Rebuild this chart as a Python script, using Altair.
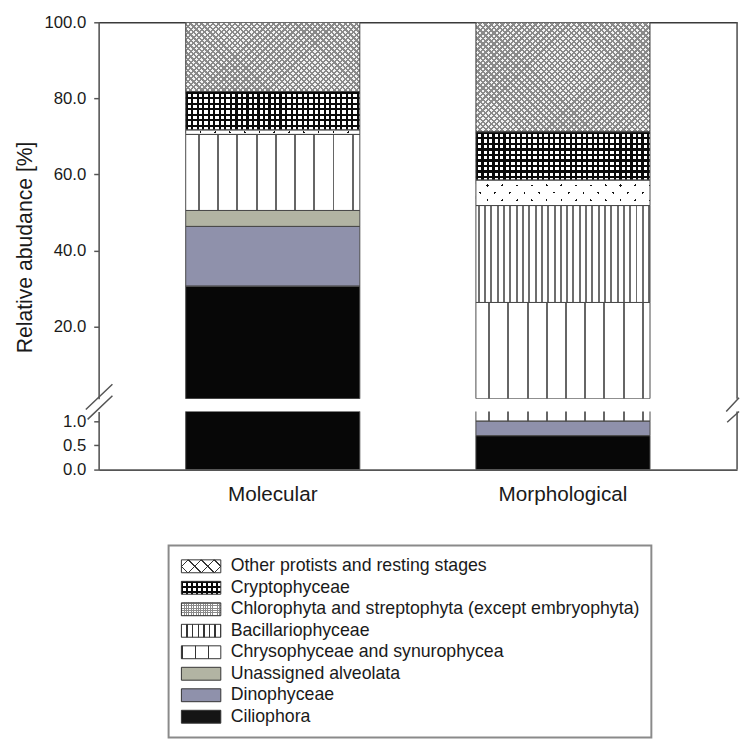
import altair as alt
import pandas as pd

# ---------------- data ----------------
methods = ["Molecular", "Morphological"]
# stacking order, bottom to top
categories = [
    "Ciliophora",
    "Dinophyceae",
    "Unassigned alveolata",
    "Chrysophyceae and synurophycea",
    "Bacillariophyceae",
    "Chlorophyta and streptophyta (except embryophyta)",
    "Cryptophyceae",
    "Other protists and resting stages",
]
molecular = [30.6, 15.7, 4.2, 20.0, 0.0, 1.2, 10.1, 18.2]
morphological = [0.7, 0.3, 0.0, 25.3, 25.5, 6.7, 12.7, 28.8]
upper_ticks = [20, 40, 60, 80, 100]
lower_ticks = [0.0, 0.5, 1.0]
legend_order = [
    "Other protists and resting stages",
    "Cryptophyceae",
    "Chlorophyta and streptophyta (except embryophyta)",
    "Bacillariophyceae",
    "Chrysophyceae and synurophycea",
    "Unassigned alveolata",
    "Dinophyceae",
    "Ciliophora",
]

rows = []
for m, vals in zip(methods, [molecular, morphological]):
    for i, (c, v) in enumerate(zip(categories, vals)):
        rows.append({"method": m, "category": c, "order": i, "value": v})
df = pd.DataFrame(rows)
leg_df = pd.DataFrame({"category": legend_order})
one_df = pd.DataFrame({"k": [0]})

# ---------------- layout / style ----------------
FONT = "Liberation Sans"
PLOT_W = 648
UP_H = 382
LO_H = 59
UP_DOM = [1, 100]
LO_DOM = [0, 1.2]
P_IN, P_OUT = 0.4, 0.3
STEP = PLOT_W / (len(methods) - P_IN + 2 * P_OUT)
BAND = STEP * (1 - P_IN)
UP_PPU = UP_H / (UP_DOM[1] - UP_DOM[0])
LO_PPU = LO_H / (LO_DOM[1] - LO_DOM[0])
T = "rgba(255,255,255,0)"
AX = "#555555"


def stripe_stops(length, period, width, color, bg, offset=0.0):
    stops = []

    def add(o, c):
        stops.append({"offset": round(min(max(o, 0.0), 1.0), 5), "color": c})

    add(0, bg)
    s = offset % period - period
    while s < length:
        a, b = max(s, 0.0), min(s + width, length)
        if b > a:
            add(a / length, bg)
            add(a / length, color)
            add(b / length, color)
            add(b / length, bg)
        s += period
    add(1, bg)
    return stops


def grad_h(stops):
    return {"gradient": "linear", "x1": 0, "y1": 0, "x2": 1, "y2": 0, "stops": stops}


def grad_v(stops):
    return {"gradient": "linear", "x1": 0, "y1": 0, "x2": 0, "y2": 1, "stops": stops}


def _diag(W, H):
    a = W * (W + H) / (W * W + H * H)
    b = H * (W + H) / (W * W + H * H)
    return a, b


def grad_da(W, H, stops):
    # 45-degree lines x + y = const
    a, b = _diag(W, H)
    return {"gradient": "linear", "x1": 0, "y1": 0,
            "x2": round(a, 5), "y2": round(b, 5), "stops": stops}


def grad_db(W, H, stops):
    # 45-degree lines x - y = const
    a, b = _diag(W, H)
    return {"gradient": "linear", "x1": 0, "y1": 1,
            "x2": round(a, 5), "y2": round(1 - b, 5), "stops": stops}


def bar_fills(cat, H):
    W = BAND
    L = W + H
    if cat == "Ciliophora":
        return ["#070707"]
    if cat == "Dinophyceae":
        return ["#8f91ab"]
    if cat == "Unassigned alveolata":
        return ["#b2b4a3"]
    if cat.startswith("Chrysophyceae"):
        return ["#ffffff", grad_h(stripe_stops(W, 19.5, 2.0, "#666666", T, 12.5))]
    if cat == "Bacillariophyceae":
        return ["#ffffff", grad_h(stripe_stops(W, 6.4, 2.0, "#6e6e6e", T, 2.0))]
    if cat.startswith("Chlorophyta"):
        return ["#ffffff",
                grad_da(W, H, stripe_stops(L, 15, 2.4, "#111111", T, 1)),
                grad_db(W, H, stripe_stops(L, 15, 2.4, T, "#ffffff", 1))]
    if cat == "Cryptophyceae":
        return ["#ffffff",
                grad_h(stripe_stops(W, 5.6, 2.2, "#0a0a0a", T, 0)),
                grad_v(stripe_stops(H, 5.6, 2.2, "#0a0a0a", T, 0))]
    # Other protists
    return ["#f4f4f4",
            grad_da(W, H, stripe_stops(L, 5.6, 2.3, "#8a8a8a", T, 0)),
            grad_db(W, H, stripe_stops(L, 5.6, 2.3, "#8a8a8a", T, 0))]


def legend_fills(cat):
    W, H = 40.0, 13.0
    L = W + H
    if cat == "Ciliophora":
        return ["#151515"]
    if cat == "Dinophyceae":
        return ["#8f91ab"]
    if cat == "Unassigned alveolata":
        return ["#b2b4a3"]
    if cat.startswith("Chrysophyceae"):
        return ["#ffffff", grad_h(stripe_stops(W, 13.33, 1.4, "#333333", T, 13.33))]
    if cat == "Bacillariophyceae":
        return ["#ffffff", grad_h(stripe_stops(W, 5.7, 1.4, "#333333", T, 5.0))]
    if cat.startswith("Chlorophyta"):
        return ["#ffffff",
                grad_h(stripe_stops(W, 2.4, 1.0, "#8a8a8a", T, 0)),
                grad_v(stripe_stops(H, 2.4, 1.0, "#8a8a8a", T, 0))]
    if cat == "Cryptophyceae":
        return ["#ffffff",
                grad_h(stripe_stops(W, 5.0, 2.0, "#0a0a0a", T, 0)),
                grad_v(stripe_stops(H, 5.0, 2.0, "#0a0a0a", T, 0))]
    return ["#ffffff",
            grad_da(W, H, stripe_stops(L, 13.3, 1.4, "#333333", T, 6)),
            grad_db(W, H, stripe_stops(L, 13.3, 1.4, "#333333", T, 6))]


cum = {}
for m, vals in zip(methods, [molecular, morphological]):
    s = 0.0
    for c, v in zip(categories, vals):
        cum[(m, c)] = (s, s + v)
        s += v


def seg_layers(dom, ppu, x_enc, y_enc, y2_enc):
    out = []
    for m in methods:
        for c in categories:
            y0, y1 = cum[(m, c)]
            if y1 - y0 <= 0 or y1 <= dom[0] or y0 >= dom[1]:
                continue
            H = (y1 - y0) * ppu
            for f in bar_fills(c, H):
                out.append(
                    alt.Chart().mark_bar(fill=f, clip=True)
                    .transform_filter((alt.datum.method == m) & (alt.datum.category == c))
                    .encode(x=x_enc, y=y_enc, y2=y2_enc)
                )
    out.append(
        alt.Chart().mark_bar(fill="transparent", stroke="#4a4a4a", strokeWidth=1, clip=True)
        .transform_filter((alt.datum.value > 0) & (alt.datum.y1 > dom[0]) & (alt.datum.y0 < dom[1]))
        .encode(x=x_enc, y=y_enc, y2=y2_enc)
    )
    return out


stack_kw = dict(stack="value", groupby=["method"], as_=["y0", "y1"],
                sort=[alt.SortField("order", "ascending")])

x_scale = alt.Scale(paddingInner=P_IN, paddingOuter=P_OUT)

# ---------------- upper panel ----------------
y_up_scale = alt.Scale(domain=UP_DOM, nice=False, zero=False)
y_up_axis = alt.Axis(values=upper_ticks, format=".1f", title="Relative abudance [%]",
                     titleY=228, titlePadding=8, titleFontSize=21.5,
                     titleFontWeight="normal", titleColor="#1a1a1a", grid=False)
x_up = alt.X("method:N", sort=methods, scale=x_scale,
             axis=alt.Axis(orient="top", labels=False, ticks=False, title=None,
                           domainColor="#3a3a3a", domainWidth=1.5, grid=False))
y_up = alt.Y("y0:Q", scale=y_up_scale, axis=y_up_axis)

# axis-break marks ("//"); the right one is anchored left of the frame so it stays on the page
BREAK_L = "M-0.93,0.79L1,-1.04M-0.8,1.5L1,-0.21"
BREAK_R = "M0.07,0.93L1,-0.07M0.14,1.71L1,0.93"
brk_y = alt.YDatum(UP_DOM[0], type="quantitative", scale=y_up_scale, axis=y_up_axis)
up_extra = [
    alt.Chart(one_df).mark_rule(color=AX, strokeWidth=1.6).encode(
        x=alt.value(PLOT_W), y=brk_y, y2=alt.Y2Datum(UP_DOM[1])),
    alt.Chart(one_df).mark_point(shape=BREAK_L, size=784, filled=False, color=AX,
                                 strokeWidth=1.5, opacity=1).encode(x=alt.value(0), y=brk_y),
    alt.Chart(one_df).mark_point(shape=BREAK_R, size=784, filled=False, color=AX,
                                 strokeWidth=1.5, opacity=1).encode(x=alt.value(PLOT_W - 12), y=brk_y),
]
upper = alt.layer(*seg_layers(UP_DOM, UP_PPU, x_up, y_up, alt.Y2("y1:Q")), *up_extra,
                  data=df).transform_stack(**stack_kw).properties(width=PLOT_W, height=UP_H)

# ---------------- lower panel ----------------
y_lo_scale = alt.Scale(domain=LO_DOM, nice=False, zero=False)
y_lo_axis = alt.Axis(values=lower_ticks, format=".1f", title=None, grid=False)
x_lo = alt.X("method:N", sort=methods, scale=x_scale,
             axis=alt.Axis(orient="bottom", ticks=False, title=None, labelAngle=0,
                           labelFontSize=21, labelPadding=14, labelColor="#1a1a1a",
                           domainColor=AX, domainWidth=1.6, grid=False))
y_lo = alt.Y("y0:Q", scale=y_lo_scale, axis=y_lo_axis)
lo_extra = [
    alt.Chart(one_df).mark_rule(color=AX, strokeWidth=1.6).encode(
        x=alt.value(PLOT_W),
        y=alt.YDatum(LO_DOM[0], type="quantitative", scale=y_lo_scale, axis=y_lo_axis),
        y2=alt.Y2Datum(LO_DOM[1])),
]
lower = alt.layer(*seg_layers(LO_DOM, LO_PPU, x_lo, y_lo, alt.Y2("y1:Q")), *lo_extra,
                  data=df).transform_stack(**stack_kw).properties(width=PLOT_W, height=LO_H)

# ---------------- legend ----------------
LEG_W, LEG_H = 490, 195
y_leg = alt.Y("category:N", sort=legend_order,
              scale=alt.Scale(paddingInner=0.4, paddingOuter=0.67), axis=None)
leg_layers = []
for c in legend_order:
    for f in legend_fills(c):
        leg_layers.append(
            alt.Chart().mark_bar(fill=f).transform_filter(alt.datum.category == c)
            .encode(y=y_leg, x=alt.value(13), x2=alt.value(53))
        )
leg_layers.append(alt.Chart().mark_bar(fill="transparent", stroke="#333333", strokeWidth=1)
                  .encode(y=y_leg, x=alt.value(13), x2=alt.value(53)))
leg_layers.append(alt.Chart().mark_text(align="left", baseline="middle", font=FONT,
                                        fontSize=18, color="#1a1a1a")
                  .encode(y=y_leg, x=alt.value(63), text="category:N"))
legend = alt.layer(*leg_layers, data=leg_df).properties(
    width=LEG_W, height=LEG_H, view=alt.ViewBackground(stroke="#8a8a8a", strokeWidth=2))

spacer = alt.Chart(one_df).mark_point(opacity=0, size=1).encode(
    x=alt.value(0), y=alt.value(0)).properties(width=20, height=10)
legend_row = alt.hconcat(spacer, legend, spacing=50)

chart = alt.vconcat(
    alt.vconcat(upper, lower, spacing=13, bounds="flush"),
    legend_row, spacing=41,
).properties(
    padding={"left": 6, "top": 0, "right": 0, "bottom": 0}
).configure_view(stroke=None).configure_axis(
    labelFont=FONT, titleFont=FONT, labelFontSize=17, labelColor="#1a1a1a",
    tickColor=AX, tickWidth=1.5, tickSize=5, labelPadding=8,
    domainColor=AX, domainWidth=1.6,
).configure_text(font=FONT)

chart.save("out.html", embed_options={"renderer": "svg", "actions": False})
